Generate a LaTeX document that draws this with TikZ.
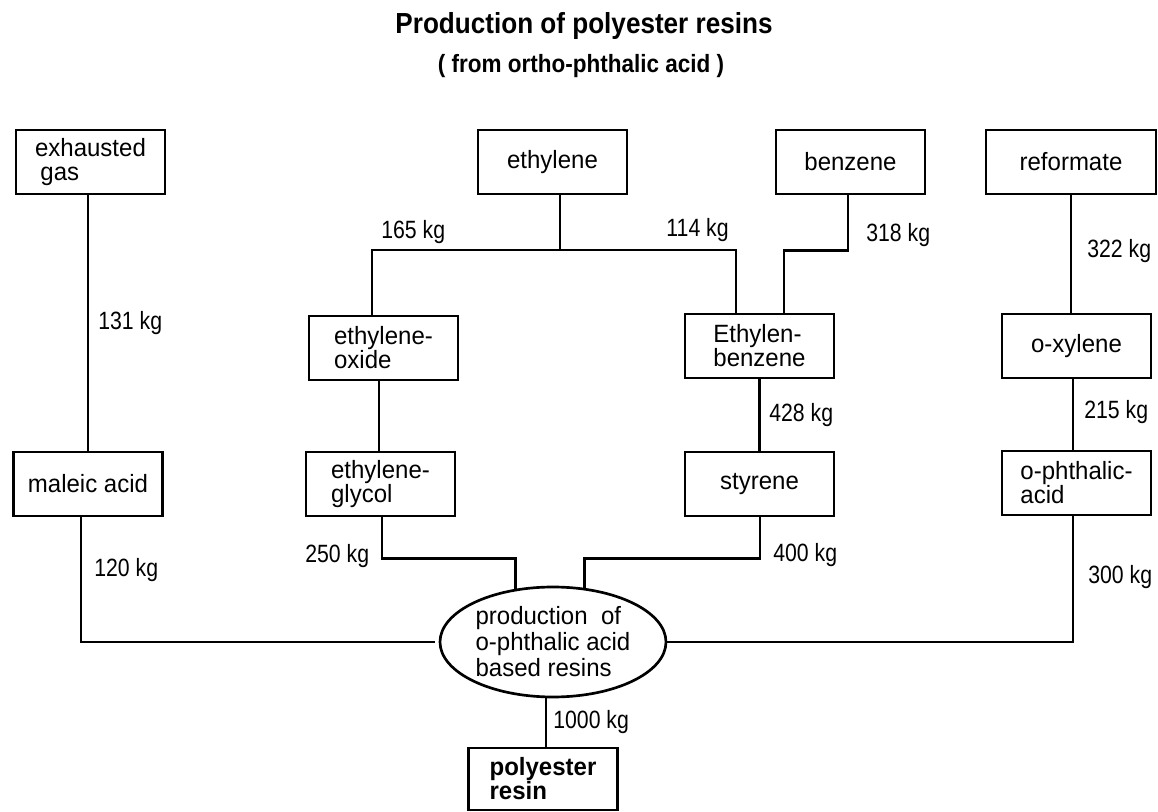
\documentclass[tikz,border=0pt]{standalone}
\usepackage{fontspec}
\setmainfont{Liberation Sans}[FakeStretch=0.96]
\newfontfamily\headfont{Liberation Sans}[FakeStretch=0.9]
\newfontfamily\massfont{Liberation Sans}[FakeStretch=0.85]
\usetikzlibrary{shapes.geometric}

\tikzset{every picture/.style={line width=2pt}}
\tikzset{
  unit/.style={draw, minimum width=111.75pt, minimum height=48pt, inner sep=0pt,
    align=left, font=\fontsize{18.75}{18}\selectfont},
  wideunit/.style={unit, minimum width=127.5pt},
  plant/.style={draw, ellipse, minimum width=169.5pt, minimum height=82.5pt,
    inner sep=0pt, align=left, font=\fontsize{18.75}{19.5}\selectfont},
  mass/.style={inner sep=0pt, font=\massfont\fontsize{18.75}{18}\selectfont},
}

\begin{document}
\begin{tikzpicture}[x=0.75pt,y=0.75pt,yscale=-1,xscale=1]
\useasboundingbox (0,0) rectangle (1158,812);

% Title
\node[anchor=base, font=\headfont\bfseries\fontsize{21.75}{26}\selectfont] (title) at (584,34) {Production of polyester resins};
\node[anchor=base, font=\headfont\bfseries\fontsize{18.75}{22}\selectfont] (subtitle) at (581,73) {( from ortho-phthalic acid )};

% Raw materials
\node[unit] (exh) at (90.5,162) {exhausted\\\hspace*{4pt}gas};
\node[unit] (eth) at (552.5,162) {ethylene};
\node[unit] (ben) at (850.5,162) {benzene};
\node[wideunit] (ref) at (1071,162) {reformate};

% Intermediates
\node[unit] (oxi) at (383.5,348) {ethylene-\\oxide};
\node[unit] (ebz) at (759.5,346) {Ethylen-\\benzene};
\node[unit] (oxy) at (1076.5,346) {o-xylene};
\node[unit] (mal) at (88,484) {maleic acid};
\node[unit] (gly) at (380.5,484) {ethylene-\\glycol};
\node[unit] (sty) at (759.5,484) {styrene};
\node[unit] (oph) at (1076.5,483) {o-phthalic-\\acid};

% Production
\node[plant] (res) at (553,642) {production\ \ of\\o-phthalic acid\\based resins};
\node[unit, minimum height=46.5pt, font=\bfseries\fontsize{18.75}{18}\selectfont] (pol) at (543,779) {polyester\\resin};

% Connectors
\draw (88,0 |- exh.south) -- (88,0 |- mal.north);
\coordinate (split) at (560,250);
\draw (560,0 |- eth.south) -- (split);
\draw (372,0 |- oxi.north) |- (split) -| (736,0 |- ebz.north);
\draw (848,0 |- ben.south) -- ++(0,55) -| (784,0 |- ebz.north);
\draw (379,0 |- oxi.south) -- (379,0 |- gly.north);
\draw (ebz.south) -- (sty.north);
\draw (ref.south) -- (ref.south |- oxy.north);
\draw (1073,0 |- oxy.south) -- (1073,0 |- oph.north);
\draw (1073,0 |- oph.south) |- (res.east);
\draw[shorten >=3pt] (81,0 |- mal.south) |- (res.west);
\draw (382,0 |- gly.south) -- ++(0,41) -| (res.125);
\draw (760,0 |- sty.south) -- ++(0,41) -| (res.60);
\draw (546,0 |- res.south) -- (546,0 |- pol.north);

% Masses
\node[mass, anchor=west] (m131) at (97,323) {131 kg};
\node[mass, anchor=west] (m120) at (93,570) {120 kg};
\node[mass, anchor=west] (m165) at (380,232) {165 kg};
\node[mass, anchor=east] (m114) at (730,230) {114 kg};
\node[mass, anchor=west] (m318) at (865,235) {318 kg};
\node[mass, anchor=west] (m322) at (1086,251) {322 kg};
\node[mass, anchor=west] (m428) at (768,415) {428 kg};
\node[mass, anchor=west] (m215) at (1083,412) {215 kg};
\node[mass, anchor=west] (m250) at (304,556) {250 kg};
\node[mass, anchor=west] (m400) at (772,555) {400 kg};
\node[mass, anchor=west] (m300) at (1087,577) {300 kg};
\node[mass, anchor=west] (m1000) at (552,722) {1000 kg};

\end{tikzpicture}
\end{document}
